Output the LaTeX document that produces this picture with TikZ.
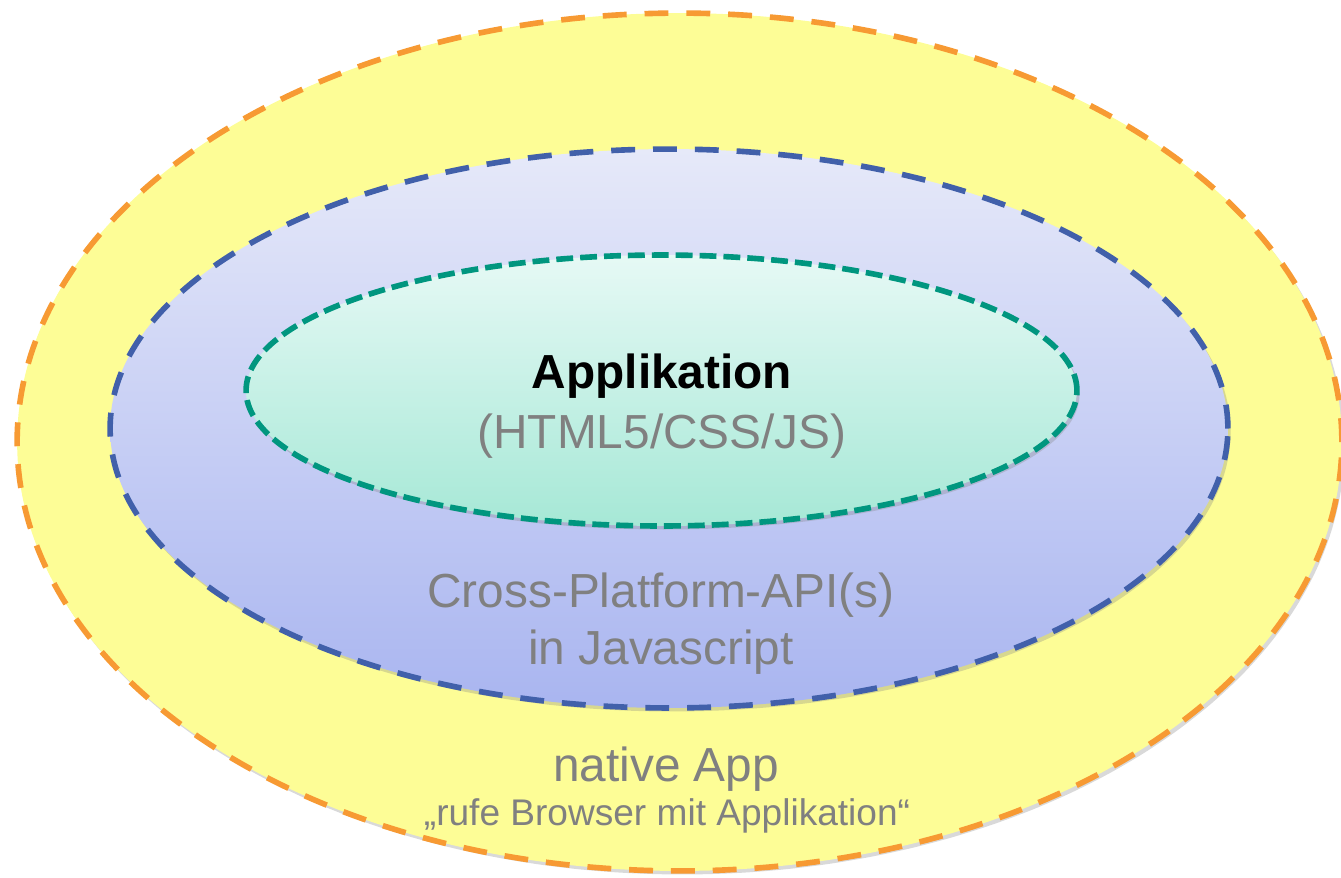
\documentclass[tikz,border=0pt]{standalone}
\usepackage{fontspec}
\setmainfont{Liberation Sans}
\usetikzlibrary{shapes.geometric,shadows}
\definecolor{nativefill}{HTML}{FDFD96}
\definecolor{nativeline}{HTML}{F79A33}
\definecolor{apitop}{HTML}{E6E9F9}
\definecolor{apibottom}{HTML}{A9B5F0}
\definecolor{apiline}{HTML}{4160AA}
\definecolor{apptop}{HTML}{E6F9F5}
\definecolor{appbottom}{HTML}{A6E8D6}
\definecolor{appline}{HTML}{00967F}
\definecolor{labelgray}{HTML}{808080}
\begin{document}
\begin{tikzpicture}
[x=0.02cm,y=-0.02cm,
  layerdecorate/.style={shape=ellipse,inner sep=0pt,line width=3.2pt,
    drop shadow={opacity=0.3,shadow xshift=1.5pt,shadow yshift=-2pt}},
  nativelayer/.style={layerdecorate,fill=nativefill,draw=nativeline,
    dash pattern=on 13.6pt off 10.2pt},
  apilayer/.style={layerdecorate,top color=apitop,bottom color=apibottom,
    draw=apiline,dash pattern=on 13.6pt off 10.2pt},
  applayer/.style={layerdecorate,top color=apptop,bottom color=appbottom,
    draw=appline,dash pattern=on 9.6pt off 4pt},
  bigtext/.style={anchor=base,inner sep=0pt,text=labelgray,
    font=\fontsize{27.2}{31}\selectfont},
  smalltext/.style={anchor=base,inner sep=0pt,text=labelgray,
    font=\fontsize{21.1}{25}\selectfont}]
\useasboundingbox (0,0) rectangle (1341,877);
%% nested layers
\foreach \layername/\x/\y/\w/\h in {native/679.5/442/26.5cm/17.16cm,
  api/669/428.5/22.36cm/11.18cm, app/661.5/390.5/16.62cm/5.42cm} {
  \node (\layername) at (\x,\y) [\layername layer,minimum width=\w,
    minimum height=\h] {};
}
%% labels
\node (apptitle) at (662,388) [bigtext,text=black,font=\fontsize{27.2}{31}\selectfont\bfseries] {Applikation};
\node (apptech) at (662,448) [bigtext] {(HTML5/CSS/JS)};
\node (apititle) at (661,607) [bigtext] {Cross-Platform-API(s)};
\node (apilang) at (661,664) [bigtext] {in Javascript};
\node (nativetitle) at (666,781) [bigtext] {native App};
\node (nativenote) at (667,825) [smalltext] {„rufe Browser mit Applikation“};
\end{tikzpicture}
\end{document}
